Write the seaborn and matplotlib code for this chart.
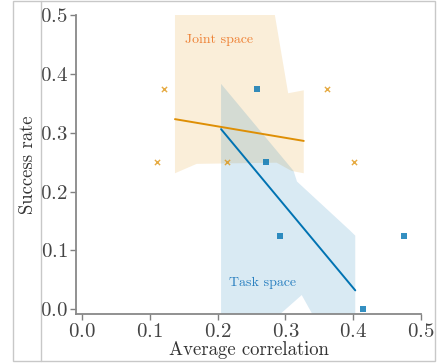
import matplotlib
matplotlib.use("Agg")

import matplotlib.pyplot as plt
import seaborn as sns
import numpy as np
import pandas as pd

# scatter points
joint_x = [0.110, 0.121, 0.214, 0.361, 0.401]
joint_y = [0.25, 0.375, 0.25, 0.375, 0.25]
task_x = [0.258, 0.272, 0.292, 0.414, 0.475]
task_y = [0.375, 0.25, 0.125, 0.0, 0.125]

# fitted lines (end points)
joint_fit_x = [0.137, 0.327]
joint_fit_y = [0.323, 0.286]
task_fit_x = [0.205, 0.403]
task_fit_y = [0.306, 0.032]

# confidence band outlines
joint_up_x = [0.137, 0.277, 0.304, 0.327]
joint_up_y = [0.55, 0.55, 0.367, 0.372]
joint_lo_x = [0.137, 0.169, 0.287, 0.309, 0.327]
joint_lo_y = [0.231, 0.247, 0.249, 0.235, 0.231]
task_up_x = [0.205, 0.312, 0.317, 0.395, 0.403]
task_up_y = [0.383, 0.235, 0.217, 0.134, 0.125]
task_lo_x = [0.205, 0.2935, 0.324, 0.339, 0.403]
task_lo_y = [-0.1, -0.007, 0.024, -0.007, -0.1]

orange = "#de8f05"
blue = "#0173b2"

sns.set_theme(style="ticks")
plt.rcParams["font.family"] = ["cmr10", "DejaVu Serif"]
plt.rcParams["axes.formatter.use_mathtext"] = True
plt.rcParams["mathtext.fontset"] = "cm"

fig = plt.figure(figsize=(4.42, 3.64), dpi=100)
ax = fig.add_axes([0.172, 0.136, 0.7805, 0.8228])


def band(ux, uy, lx, ly, color):
    xs = np.r_[ux, lx[::-1]]
    ys = np.r_[uy, ly[::-1]]
    ax.fill(xs, ys, color=color, alpha=0.15, lw=0)


band(joint_up_x, joint_up_y, joint_lo_x, joint_lo_y, orange)
band(task_up_x, task_up_y, task_lo_x, task_lo_y, blue)

sns.lineplot(x=joint_fit_x, y=joint_fit_y, color=orange, lw=1.4, ax=ax)
sns.lineplot(x=task_fit_x, y=task_fit_y, color=blue, lw=1.4, ax=ax)

sns.scatterplot(x=joint_x, y=joint_y, marker="x", color=orange, alpha=0.75,
                s=14, linewidth=1.0, ax=ax)
sns.scatterplot(x=task_x, y=task_y, marker="s", color=blue, alpha=0.8,
                s=14, linewidth=0, ax=ax)

ax.text(0.152, 0.4575, "Joint space", color="#ee8236", fontsize=10, va="center")
ax.text(0.2168, 0.040, "Task space", color="#2a80c0", fontsize=10, va="baseline")

ax.set_xlim(-0.009, 0.5)
ax.set_ylim(-0.009, 0.5)
ax.set_xticks([0.0, 0.1, 0.2, 0.3, 0.4, 0.5])
ax.set_yticks([0.0, 0.1, 0.2, 0.3, 0.4, 0.5])
ax.set_xlabel("Average correlation", fontsize=13.5, color="#333333", labelpad=0)
ax.set_ylabel("Success rate", fontsize=13.5, color="#333333", labelpad=2)
ax.tick_params(labelsize=15, colors="#808080", labelcolor="#444444",
               length=4.5, width=1.0, pad=1.5)
sns.despine(ax=ax)
for side in ["left", "bottom"]:
    ax.spines[side].set_color("#888888")
    ax.spines[side].set_linewidth(1.3)

# frame around the figure
fig.add_artist(plt.Rectangle((0.0287, 0.0082), 0.956, 0.989, transform=fig.transFigure,
                             fill=False, ec="#c8c8c8", lw=1.0))
fig.add_artist(plt.Line2D([0.0928, 0.0928], [0.0082, 0.9972], transform=fig.transFigure,
                          color="#c8c8c8", lw=1.0))

fig.savefig("out.png", dpi=100)
plt.close(fig)
